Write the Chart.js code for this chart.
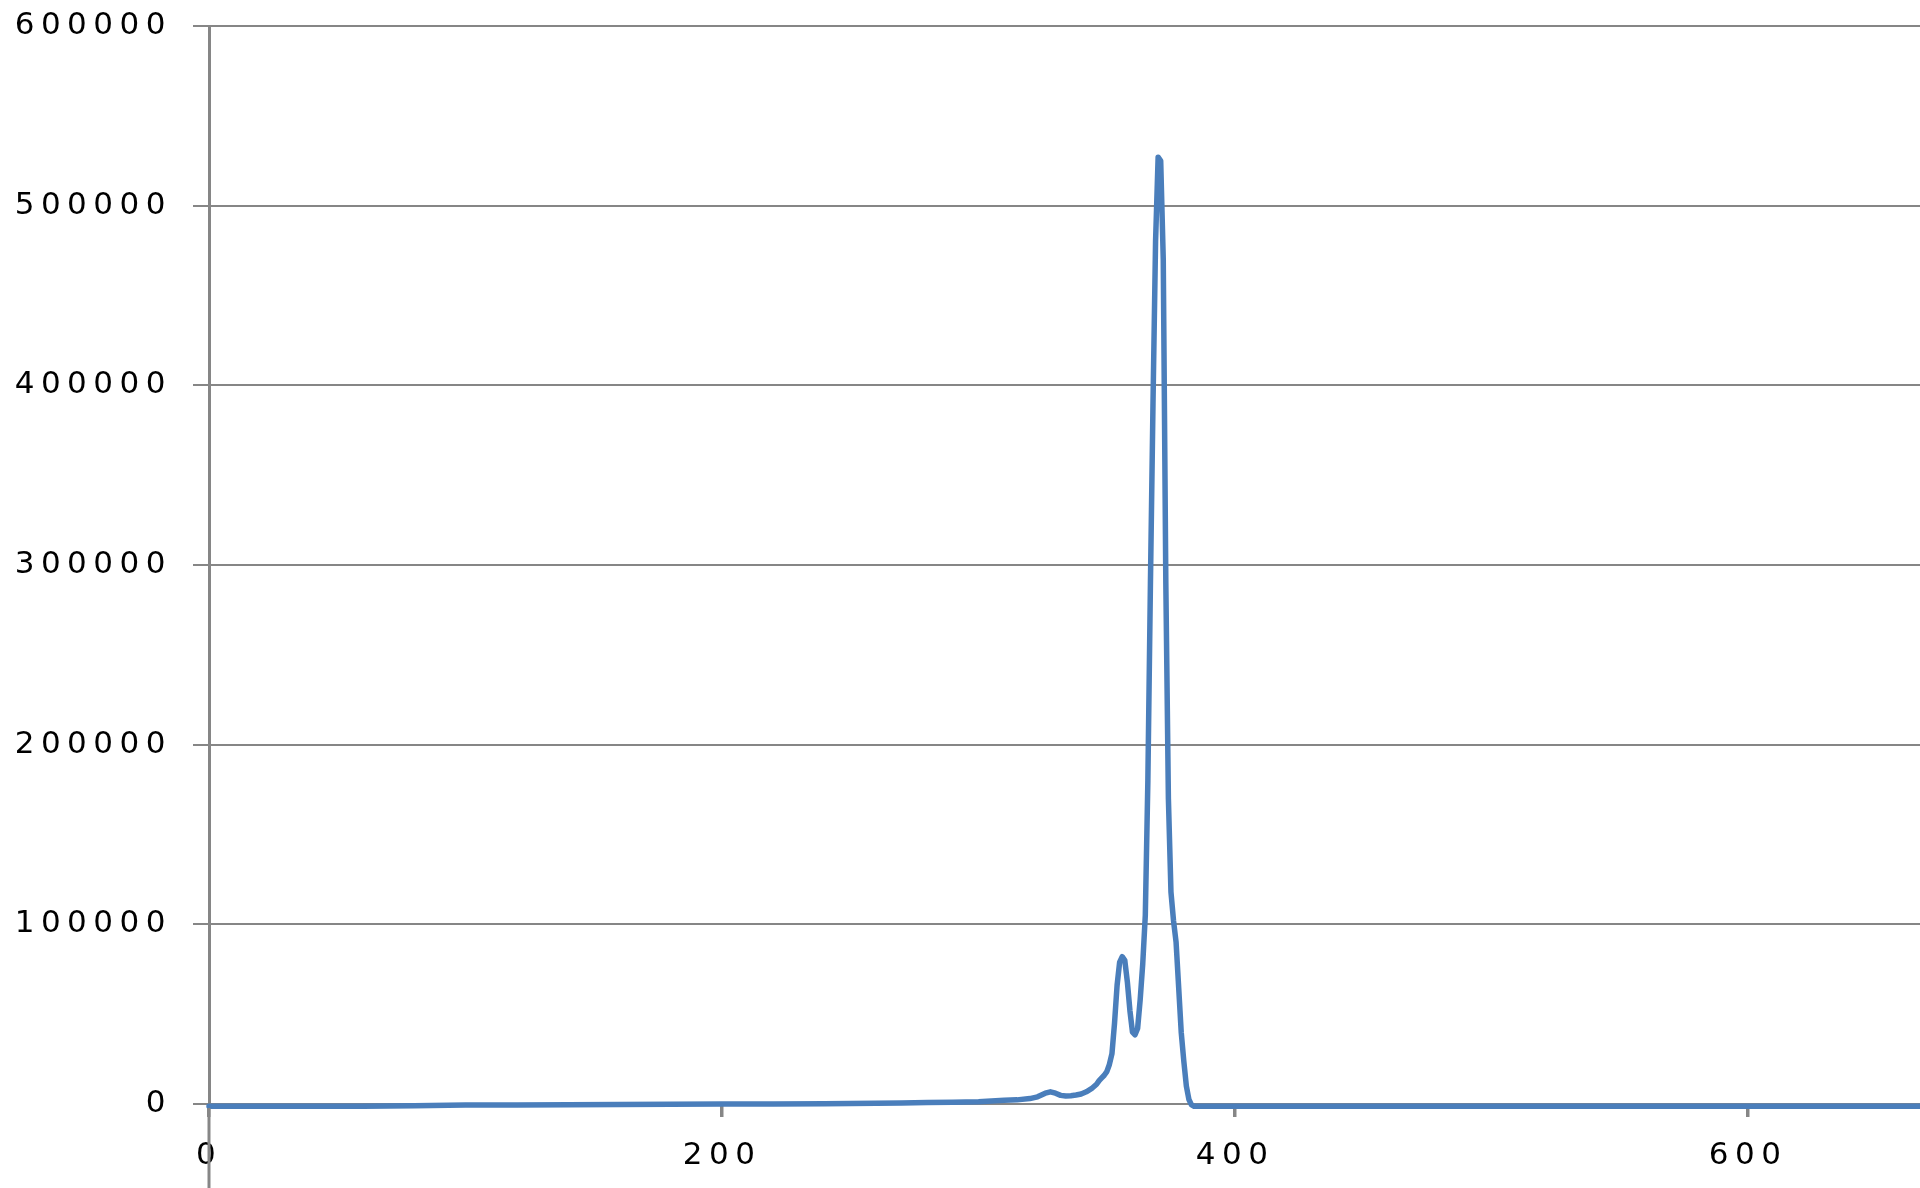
<!DOCTYPE html>
<html>
<head>
<meta charset="utf-8">
<script src="https://cdn.jsdelivr.net/npm/chart.js@4.4.0/dist/chart.umd.min.js"></script>
<style>
  html, body { margin: 0; padding: 0; background: #fff; }
  #contenedor { width: 1920px; height: 1188px; }
</style>
</head>
<body>
<div id="contenedor"><canvas id="espectroChart"></canvas></div>
<script>
// Datos (eje X y valores de la serie)
const valoresX = [
  0, 20, 40, 60, 80, 100, 120, 140, 160, 180, 200, 220, 240, 260, 270, 280, 290,
  300, 305, 310, 315, 320, 323, 326, 328, 330, 332, 334, 336, 338, 340, 342, 344,
  346, 347, 348, 349, 350, 351, 352, 353, 354, 355, 356, 357, 358, 359, 360, 361,
  362, 363, 364, 365, 366, 367, 368, 369, 370, 371, 372, 373, 374, 375, 376, 377,
  378, 379, 380, 381, 382, 383, 384, 390, 400, 450, 500, 550, 600, 650, 700
];
const valoresY = [
  -1200, -1200, -1200, -1200, -1000, -500, -500, -400, -300, -200, 0, 0, 200, 400, 600, 800, 1000,
  1300, 1700, 2100, 2300, 3000, 4000, 6000, 6800, 6000, 4800, 4400, 4600, 5000, 5600, 6800, 8500,
  11000, 13000, 14500, 16000, 18000, 22000, 28000, 45000, 66000, 79000, 82000, 80000, 68000, 52000, 40000, 38500,
  42000, 58000, 78000, 105000, 180000, 290000, 390000, 480000, 527000, 525000, 470000, 290000, 170000, 118000, 102000, 90000,
  65000, 40000, 24000, 10000, 2500, -500, -1200, -1200, -1200, -1200, -1200, -1200, -1200, -1200, -1200
];
const ticksX = [0, 200, 400, 600];
const ticksY = [0, 100000, 200000, 300000, 400000, 500000, 600000];
const maxX = 667;

const colorEjes = "#868686";
const espaciado = "6.5px";

const puntos = valoresX.map((x, i) => ({ x: x, y: valoresY[i] }));

// Espaciado de letras y prolongacion del eje Y bajo el eje X
const pluginEjes = {
  id: "ejes",
  beforeLayout(chart) {
    chart.ctx.letterSpacing = espaciado;
  },
  beforeDraw(chart) {
    chart.ctx.letterSpacing = espaciado;
  },
  afterDraw(chart) {
    const ctx = chart.ctx;
    const x = chart.scales.x.getPixelForValue(0);
    ctx.save();
    ctx.strokeStyle = colorEjes;
    ctx.lineWidth = 3;
    ctx.beginPath();
    ctx.moveTo(x, chart.chartArea.bottom + 4);
    ctx.lineTo(x, chart.height);
    ctx.stroke();
    ctx.restore();
  },
};

const fuente = { family: "DejaVu Sans", size: 31 };

new Chart(document.getElementById("espectroChart"), {
  type: "line",
  data: {
    datasets: [
      {
        data: puntos,
        borderColor: "#4a7ebb",
        borderWidth: 5.5,
        borderJoinStyle: "round",
        borderCapStyle: "round",
        pointRadius: 0,
        fill: false,
        tension: 0,
        clip: false,
      },
    ],
  },
  options: {
    responsive: true,
    maintainAspectRatio: false,
    animation: false,
    layout: { padding: { top: 26, right: 0, bottom: 0, left: 0 } },
    plugins: { legend: { display: false }, tooltip: { enabled: false } },
    scales: {
      x: {
        type: "linear",
        min: 0,
        max: maxX,
        afterBuildTicks: (s) => {
          s.ticks = ticksX.map((v) => ({ value: v }));
        },
        afterFit: (s) => {
          s.height = 84;
          s.paddingLeft = 0;
          s.paddingRight = 0;
        },
        ticks: {
          padding: 20,
          color: "#000",
          font: fuente,
          maxRotation: 0,
          callback: (v) => String(v),
        },
        grid: {
          drawOnChartArea: false,
          drawTicks: true,
          tickLength: 13,
          color: colorEjes,
          lineWidth: 3.5,
        },
        border: { color: colorEjes, width: 2 },
      },
      y: {
        type: "linear",
        min: 0,
        max: ticksY[ticksY.length - 1],
        afterBuildTicks: (s) => {
          s.ticks = ticksY.map((v) => ({ value: v }));
        },
        afterFit: (s) => {
          s.width = 209;
          s.paddingTop = 0;
          s.paddingBottom = 0;
        },
        ticks: {
          padding: 21,
          color: "#000",
          font: fuente,
          callback: (v) => String(v),
        },
        grid: { color: colorEjes, lineWidth: 2, tickLength: 16 },
        border: { color: colorEjes, width: 3 },
      },
    },
  },
  plugins: [pluginEjes],
});
</script>
</body>
</html>
